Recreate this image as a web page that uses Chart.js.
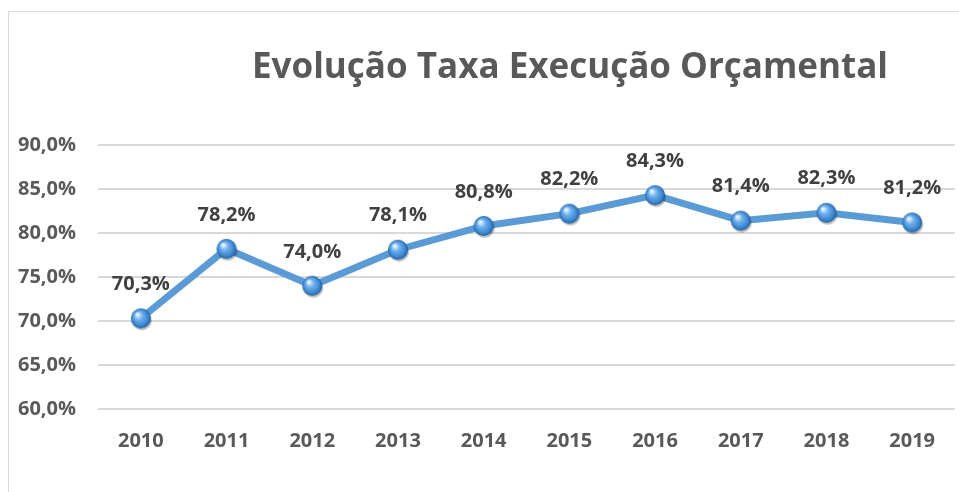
<!DOCTYPE html>
<html>
<head>
<meta charset="utf-8">
<script src="https://cdn.jsdelivr.net/npm/chart.js@4"></script>
<style>
  html, body { margin: 0; background: #fff; overflow: hidden; width: 959px; height: 492px; }
  #frame { position: absolute; left: 8px; top: 11px; width: 960px; height: 490px; border: 1px solid #d9d9d9; box-sizing: border-box; }
  #wrap { position: absolute; left: 0; top: 0; width: 959px; height: 492px; }
</style>
</head>
<body>
<div id="frame"></div>
<div id="wrap"><canvas id="myChart"></canvas></div>
<script>
const years = ["2010", "2011", "2012", "2013", "2014", "2015", "2016", "2017", "2018", "2019"];
const taxa = [70.3, 78.2, 74.0, 78.1, 80.8, 82.2, 84.3, 81.4, 82.3, 81.2];
const yMin = 60, yMax = 90, yStep = 5;
const titleText = "Evolução Taxa Execução Orçamental";

const fmt = (v) => v.toFixed(1).replace(".", ",") + "%";

// little blue sphere used as the point marker
function makeSphere(r) {
  const size = r * 2 + 6;
  const c = document.createElement("canvas");
  c.width = size;
  c.height = size;
  const g = c.getContext("2d");
  const cx = size / 2, cy = size / 2;
  // soft shadow
  g.beginPath();
  g.arc(cx + 1, cy + 2, r, 0, Math.PI * 2);
  g.fillStyle = "rgba(0,0,0,0.25)";
  g.fill();
  const grad = g.createRadialGradient(cx - r * 0.35, cy - r * 0.4, 1, cx, cy, r);
  grad.addColorStop(0, "#e4f2ff");
  grad.addColorStop(0.35, "#6fb0ec");
  grad.addColorStop(0.8, "#3a85cf");
  grad.addColorStop(1, "#1f5c9c");
  g.beginPath();
  g.arc(cx, cy, r, 0, Math.PI * 2);
  g.fillStyle = grad;
  g.fill();
  return c;
}
const sphere = makeSphere(10);

const titlePlugin = {
  id: "titleText",
  afterDraw(chart) {
    const ctx = chart.ctx;
    ctx.save();
    ctx.font = "bold 35px 'Open Sans'";
    ctx.fillStyle = "#595959";
    ctx.textAlign = "center";
    ctx.textBaseline = "middle";
    ctx.fillText(titleText, 570, 68);
    ctx.restore();
  }
};

const labelPlugin = {
  id: "pointLabels",
  afterDatasetsDraw(chart) {
    const ctx = chart.ctx;
    const meta = chart.getDatasetMeta(0);
    ctx.save();
    ctx.font = "bold 20px 'Open Sans'";
    ctx.fillStyle = "#404040";
    ctx.textAlign = "center";
    ctx.textBaseline = "middle";
    meta.data.forEach((pt, i) => {
      ctx.fillText(fmt(taxa[i]), pt.x, pt.y - 34);
    });
    ctx.restore();
  }
};

new Chart("myChart", {
  type: "line",
  data: {
    labels: years,
    datasets: [{
      data: taxa,
      borderColor: "#5b9bd5",
      borderWidth: 7,
      tension: 0,
      pointStyle: sphere,
      pointRadius: 10,
      pointHoverRadius: 10,
      fill: false,
      clip: false
    }]
  },
  options: {
    responsive: true,
    maintainAspectRatio: false,
    animation: false,
    layout: { autoPadding: false, padding: { left: 0, top: 145, right: 4, bottom: 0 } },
    plugins: {
      legend: { display: false },
      tooltip: { enabled: false },
      title: { display: false }
    },
    scales: {
      x: {
        offset: true,
        grid: { display: false, drawTicks: false },
        border: { display: false },
        ticks: {
          color: "#595959",
          font: { family: "'Open Sans'", size: 20, weight: "bold" },
          padding: 20
        },
        afterFit: (s) => { s.height = 83; s.paddingLeft = 0; s.paddingRight = 0; }
      },
      y: {
        min: yMin,
        max: yMax,
        grid: { color: "#d9d9d9", lineWidth: 2, drawTicks: false },
        border: { display: false },
        ticks: {
          stepSize: yStep,
          color: "#595959",
          font: { family: "'Open Sans'", size: 20, weight: "bold" },
          padding: 22,
          callback: (v) => fmt(v)
        },
        afterFit: (s) => { s.width = 98; }
      }
    }
  },
  plugins: [titlePlugin, labelPlugin]
});
</script>
</body>
</html>
